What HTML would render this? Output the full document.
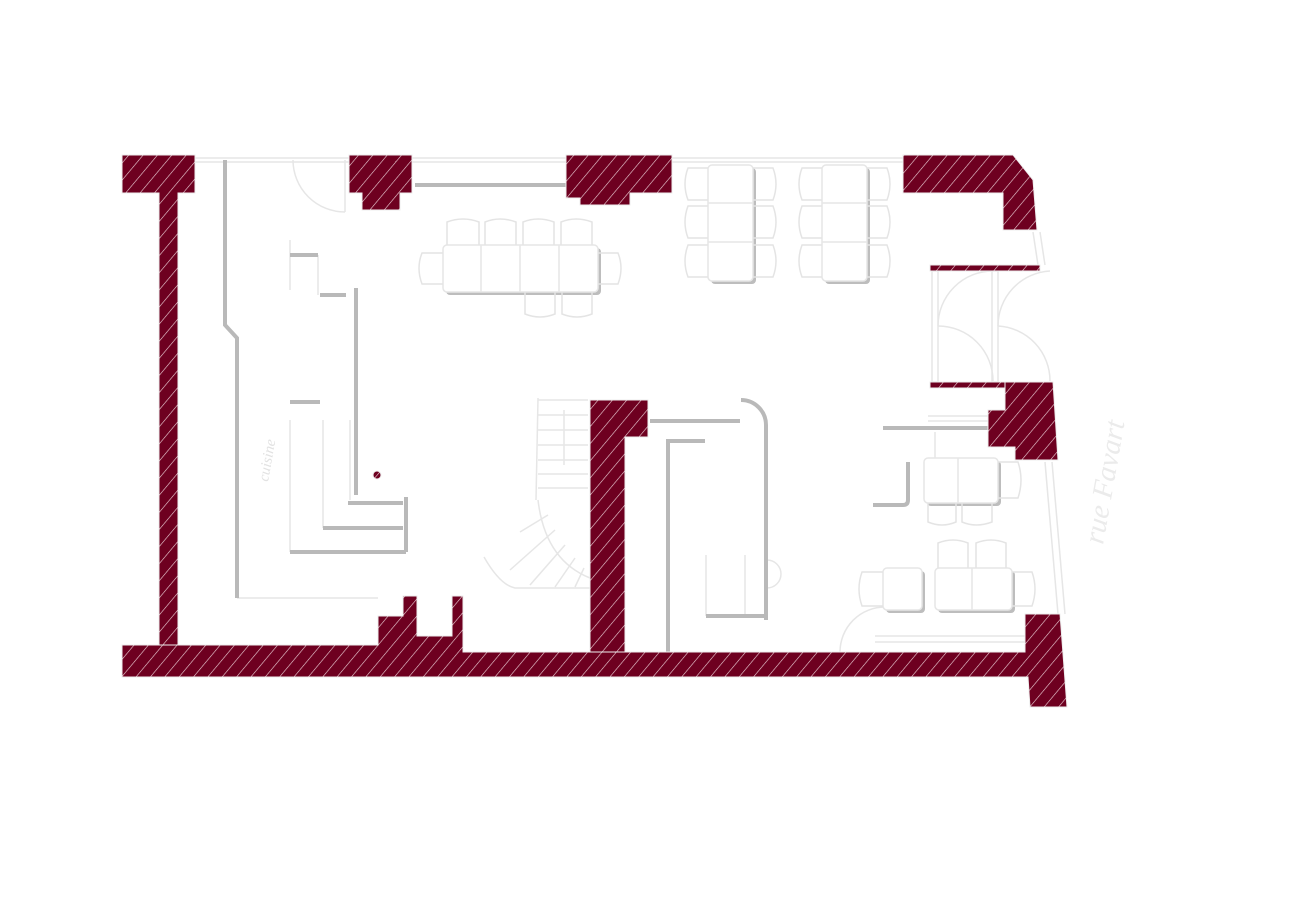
<!DOCTYPE html>
<html><head><meta charset="utf-8"><style>
html,body{margin:0;padding:0;background:#fff;width:1300px;height:919px;overflow:hidden}
svg{display:block}
</style></head><body>
<svg width="1300" height="919" viewBox="0 0 1300 919" xmlns="http://www.w3.org/2000/svg">
<defs>
<pattern id="h" patternUnits="userSpaceOnUse" width="11" height="11" patternTransform="rotate(40)">
<rect width="11" height="11" fill="#6e0020"/>
<line x1="0" y1="0" x2="0" y2="11" stroke="#f0d6dc" stroke-width="1.2"/>
</pattern>
</defs>

<g stroke="#e6e6e6" stroke-width="1.5" fill="none">
<line x1="195" y1="158" x2="349" y2="158"/><line x1="195" y1="162" x2="349" y2="162"/>
<line x1="412" y1="158" x2="566" y2="158"/><line x1="412" y1="162" x2="566" y2="162"/>
<line x1="672" y1="158" x2="903" y2="158"/><line x1="672" y1="162" x2="903" y2="162"/>
<path d="M293 160 A52 52 0 0 0 345 212"/><line x1="345" y1="160" x2="345" y2="212"/>
<line x1="237" y1="598" x2="378" y2="598"/>
<rect x="932" y="271" width="6" height="111"/><rect x="992" y="271" width="6" height="111"/>
<path d="M938 326 A55 55 0 0 1 993 271"/><path d="M938 326 A55 55 0 0 1 993 381"/>
<path d="M998 326 A55 55 0 0 1 1050 271"/><path d="M998 326 A55 55 0 0 1 1050 381"/>
<line x1="1033" y1="232" x2="1038" y2="265"/><line x1="1040" y1="232" x2="1045" y2="265"/>
<line x1="1045" y1="462" x2="1058" y2="614"/><line x1="1052" y1="462" x2="1065" y2="614"/>
<path d="M840 652 A45 45 0 0 1 885 607"/>
<line x1="875" y1="636" x2="1025" y2="636"/><line x1="875" y1="642" x2="1025" y2="642"/>
<line x1="928" y1="416" x2="988" y2="416"/><line x1="928" y1="421" x2="988" y2="421"/>
<line x1="935" y1="432" x2="935" y2="458"/>
<line x1="290" y1="420" x2="290" y2="552"/><line x1="323" y1="420" x2="323" y2="528"/>
<line x1="350" y1="420" x2="350" y2="500"/><line x1="290" y1="240" x2="290" y2="290"/>
<line x1="318" y1="255" x2="318" y2="295"/>
<line x1="706" y1="555" x2="706" y2="616"/><line x1="745" y1="555" x2="745" y2="616"/>
<path d="M767 560 A14 14 0 0 1 767 588"/>
<line x1="538" y1="398" x2="536" y2="500"/>
<line x1="538" y1="400" x2="588" y2="400"/>
<line x1="538" y1="415" x2="588" y2="415"/><line x1="538" y1="430" x2="588" y2="430"/>
<line x1="538" y1="445" x2="588" y2="445"/><line x1="538" y1="460" x2="588" y2="460"/>
<line x1="538" y1="474" x2="588" y2="474"/><line x1="538" y1="488" x2="588" y2="488"/>
<line x1="564" y1="410" x2="564" y2="465"/>
<path d="M538 500 Q545 560 590 578"/>
<path d="M484 557 Q500 585 515 588 L590 588"/>
<line x1="548" y1="515" x2="520" y2="532"/><line x1="555" y1="530" x2="510" y2="570"/>
<line x1="565" y1="545" x2="530" y2="585"/><line x1="575" y1="558" x2="555" y2="587"/>
<line x1="584" y1="568" x2="575" y2="587"/>
</g>

<g stroke="#b9b9b9" stroke-width="4" fill="none">
<path d="M225 160 L225 325 L237 338 L237 598"/>
<line x1="415" y1="185" x2="566" y2="185"/>
<line x1="290" y1="255" x2="318" y2="255"/><line x1="320" y1="295" x2="346" y2="295"/>
<line x1="356" y1="288" x2="356" y2="495"/>
<line x1="290" y1="402" x2="320" y2="402"/>
<line x1="348" y1="503" x2="403" y2="503"/><line x1="323" y1="528" x2="403" y2="528"/>
<line x1="290" y1="552" x2="406" y2="552"/><line x1="406" y1="497" x2="406" y2="552"/>
<path d="M650 421 L740 421"/><path d="M741 400 A25 25 0 0 1 766 425 L766 620"/>
<line x1="706" y1="616" x2="766" y2="616"/>
<path d="M705 441 L668 441 L668 652"/>
<line x1="883" y1="428" x2="988" y2="428"/>
<path d="M908 462 L908 500 Q908 505 903 505 L873 505"/>
</g>

<g>
<g fill="#bdbdbd">
<rect x="446" y="248" width="155" height="47" rx="4"/>
<rect x="711" y="168" width="45" height="116" rx="4"/>
<rect x="825" y="168" width="45" height="116" rx="4"/>
<rect x="927" y="461" width="74" height="45" rx="4"/>
<rect x="886" y="571" width="39" height="42" rx="4"/>
<rect x="938" y="571" width="77" height="42" rx="4"/>
</g>
<g fill="#fff" stroke="#e6e6e6" stroke-width="1.5">
<rect x="443" y="245" width="155" height="47" rx="4"/>
<line x1="481" y1="245" x2="481" y2="292"/><line x1="520" y1="245" x2="520" y2="292"/><line x1="559" y1="245" x2="559" y2="292"/>
<rect x="708" y="165" width="45" height="116" rx="4"/>
<line x1="708" y1="203" x2="753" y2="203"/><line x1="708" y1="242" x2="753" y2="242"/>
<rect x="822" y="165" width="45" height="116" rx="4"/>
<line x1="822" y1="203" x2="867" y2="203"/><line x1="822" y1="242" x2="867" y2="242"/>
<rect x="924" y="458" width="74" height="45" rx="4"/>
<line x1="958" y1="458" x2="958" y2="503"/>
<rect x="883" y="568" width="39" height="42" rx="4"/>
<rect x="935" y="568" width="77" height="42" rx="4"/>
<line x1="972" y1="568" x2="972" y2="610"/>
</g>
<g fill="none" stroke="#e4e4e4" stroke-width="1.5">
<path d="M447 245 V222 Q463 216 479 222 V245"/><path d="M485 245 V222 Q500 216 516 222 V245"/>
<path d="M523 245 V222 Q538 216 554 222 V245"/><path d="M561 245 V222 Q576 216 592 222 V245"/>
<path d="M525 292 V314 Q540 320 555 314 V292"/><path d="M562 292 V314 Q577 320 592 314 V292"/>
<path d="M443 253 H422 Q416 268 422 284 H443"/><path d="M598 253 H618 Q624 268 618 284 H598"/>
<path d="M708 168 H688 Q682 184 688 200 H708"/><path d="M708 206 H688 Q682 222 688 238 H708"/><path d="M708 245 H688 Q682 261 688 277 H708"/>
<path d="M753 168 H773 Q779 184 773 200 H753"/><path d="M753 206 H773 Q779 222 773 238 H753"/><path d="M753 245 H773 Q779 261 773 277 H753"/>
<path d="M822 168 H802 Q796 184 802 200 H822"/><path d="M822 206 H802 Q796 222 802 238 H822"/><path d="M822 245 H802 Q796 261 802 277 H822"/>
<path d="M867 168 H887 Q893 184 887 200 H867"/><path d="M867 206 H887 Q893 222 887 238 H867"/><path d="M867 245 H887 Q893 261 887 277 H867"/>
<path d="M998 462 H1018 Q1024 480 1018 498 H998"/>
<path d="M928 503 V522 Q942 528 956 522 V503"/><path d="M962 503 V522 Q976 528 992 522 V503"/>
<path d="M938 568 V543 Q953 537 968 543 V568"/><path d="M976 568 V543 Q991 537 1006 543 V568"/>
<path d="M883 572 H862 Q856 589 862 606 H883"/><path d="M1012 572 H1032 Q1038 589 1032 606 H1012"/>
</g>
</g>

<g fill="url(#h)" stroke="#eee" stroke-width="1">
<path d="M122 155 H195 V193 H178 V645 H159 V193 H122 Z"/>
<path d="M349 155 H412 V193 H400 V210 H362 V193 H349 Z"/>
<path d="M566 155 H672 V193 H630 V205 H580 V198 H566 Z"/>
<path d="M903 155 H1013 L1033 180 L1037 230 H1003 V193 H903 Z"/>
<rect x="930" y="265" width="110" height="6"/>
<rect x="930" y="382" width="75" height="6"/>
<path d="M1005 382 H1053 L1058 460 H1015 V447 H988 V410 H1005 Z"/>
<path d="M590 400 H648 V437 H625 V652 H590 Z"/>
<path d="M122 645 H378 V616 H403 V596 H417 V636 H452 V596 H463 V652 H1025 V614 H1060 L1067 707 H1030 L1028 677 H122 Z"/>
<circle cx="377" cy="475" r="4"/>
</g>

<text transform="translate(268,482) rotate(-80)" font-family="Liberation Serif, serif" font-style="italic" font-size="15" fill="#e2e2e2">cuisine</text>
<text transform="translate(1103,545) rotate(-80)" font-family="Liberation Serif, serif" font-style="italic" font-size="29" fill="#ebebeb">rue  Favart</text>
</svg>
</body></html>
